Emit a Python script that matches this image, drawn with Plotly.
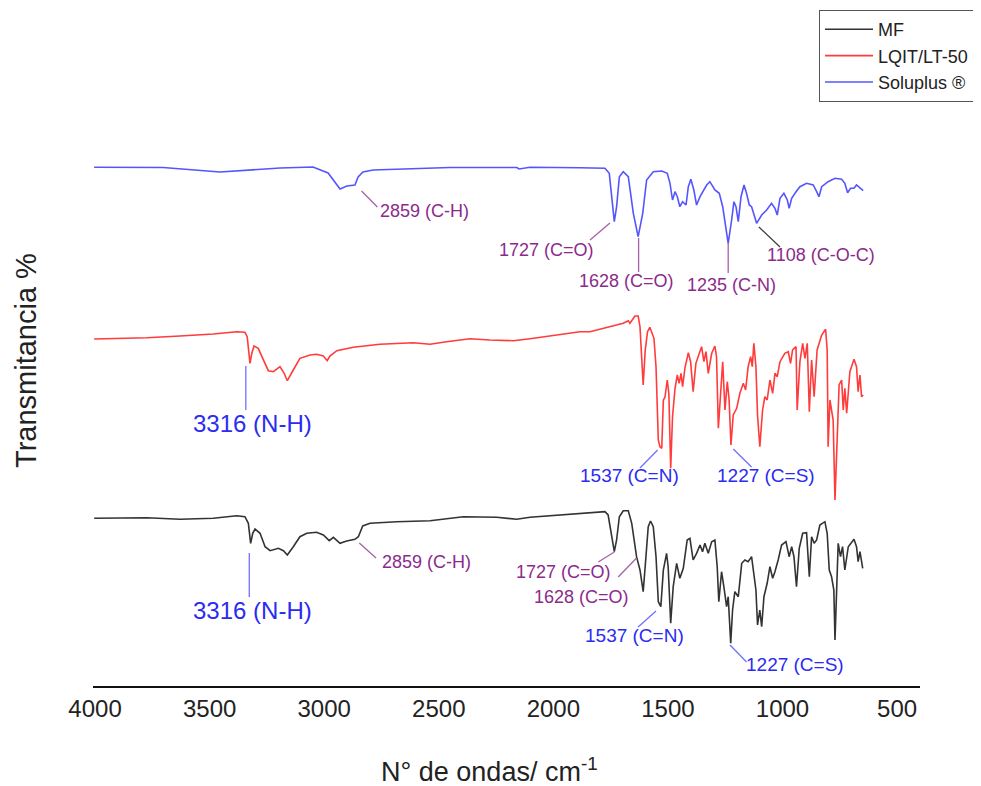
import plotly.graph_objects as go

# ---------------- data (wavenumber cm-1, transmittance in arbitrary offset units) ----------------
mf_wn = [4004, 3774, 3629, 3484, 3382, 3346, 3331, 3321, 3312, 3302, 3280, 3258, 3236, 3200, 3178, 3161,
         3135, 3106, 3076, 3033, 3004, 2978, 2960, 2931, 2902, 2866, 2851, 2832, 2800, 2684, 2538, 2393,
         2247, 2160, 2102, 1884, 1840, 1775, 1761, 1746, 1734, 1724, 1712, 1695, 1673, 1658, 1637, 1622,
         1608, 1596, 1586, 1576, 1564, 1552, 1542, 1531, 1520, 1506, 1499, 1488, 1477, 1462, 1448, 1433,
         1416, 1404, 1390, 1375, 1360, 1349, 1339, 1324, 1309, 1295, 1285, 1278, 1266, 1256, 1244, 1237,
         1226, 1218, 1208, 1193, 1178, 1164, 1150, 1135, 1125, 1116, 1109, 1099, 1091, 1081, 1067, 1055,
         1043, 1033, 1019, 1004, 985, 971, 960, 950, 939, 927, 912, 895, 883, 873, 862, 851, 837, 815,
         805, 796, 786, 776, 771, 764, 757, 747, 738, 728, 713, 688, 677, 670, 662, 650]
mf_t = [167.7, 168.3, 166.7, 167.7, 170.3, 169.3, 162.7, 142.7, 152.7, 157, 152.7, 139.3, 135.3, 137.7,
        135.3, 131, 139.3, 149.3, 152.7, 153.7, 151, 145.3, 148.7, 142.7, 145, 146.7, 149.3, 160, 162.7,
        164.3, 165.3, 169.3, 168.7, 166.7, 168.7, 172, 172.7, 174.3, 171, 149.3, 134.3, 146, 169.3, 175.3,
        175.3, 162.7, 129.3, 116, 94.3, 129.3, 159.3, 165, 159.3, 129.3, 84.3, 79.3, 116, 132.7, 119.3,
        62.7, 99.3, 122.7, 107.7, 117.7, 146, 147.7, 126, 132.7, 141, 134.3, 142.7, 132.7, 144.3, 146,
        119.3, 84.3, 114.3, 99.3, 79.3, 89.3, 42.7, 76, 94.3, 89.3, 122.7, 126, 124.3, 129.3, 109.3, 96,
        61, 76, 59.3, 89.3, 102.7, 119.3, 107.7, 114.3, 126, 141, 144.3, 129.3, 139.3, 129.3, 99.3, 137.7,
        152.7, 153.3, 109.3, 149.3, 142.7, 146, 161, 164.3, 152.7, 116, 109.3, 96, 46, 96, 142.7, 129.3,
        139.3, 116, 139.3, 146.7, 139.3, 124.3, 134.3, 117.7]

lqit_wn = [4004, 3774, 3629, 3484, 3382, 3346, 3336, 3324, 3316, 3306, 3288, 3266, 3244, 3222, 3193, 3175,
           3161, 3135, 3106, 3062, 3033, 3004, 2987, 2975, 2945, 2873, 2757, 2611, 2538, 2466, 2364, 2277,
           2175, 2102, 1884, 1840, 1797, 1739, 1695, 1673, 1666, 1644, 1630, 1622, 1615, 1608, 1599, 1589,
           1579, 1568, 1561, 1552, 1542, 1535, 1527, 1520, 1513, 1503, 1496, 1488, 1480, 1469, 1459, 1451,
           1443, 1436, 1426, 1411, 1401, 1390, 1378, 1363, 1353, 1343, 1334, 1324, 1309, 1295, 1288, 1280,
           1270, 1261, 1251, 1241, 1233, 1225, 1215, 1200, 1186, 1171, 1161, 1150, 1139, 1132, 1125, 1116,
           1109, 1099, 1087, 1077, 1067, 1055, 1043, 1033, 1023, 1011, 990, 975, 965, 956, 941, 936, 924,
           912, 902, 892, 883, 873, 862, 849, 829, 812, 805, 801, 793, 786, 779, 771, 761, 753, 742, 735,
           728, 720, 706, 688, 677, 670, 662, 655, 648]
lqit_t = [347, 348.3, 350, 352, 354.3, 353.7, 349.3, 322.7, 332.7, 340, 337.7, 326, 315.3, 314.3, 319.3,
          312.7, 305.3, 316, 327.7, 331, 331.7, 330, 325.3, 330, 335.3, 338.7, 341.7, 343.3, 341.7, 344.3,
          347.3, 346, 345.3, 347.3, 354.3, 354.3, 356.7, 360, 362.7, 365.3, 362.7, 370, 370, 359.3, 329.3,
          301, 336, 354.3, 358.7, 352.7, 347.7, 319.3, 246, 239.3, 237.7, 286, 288.7, 306, 292.7, 217.7,
          269.3, 297.7, 311, 302.7, 312.7, 299.3, 317.7, 333.3, 324.3, 294.3, 322.7, 332.7, 339.3, 324.3,
          334.3, 312.7, 332.7, 340, 329.3, 257.7, 296, 324.3, 276, 304.3, 286, 241, 271, 277.7, 292.7,
          302.7, 296, 319.3, 329.3, 319.3, 342.7, 319.3, 271, 239.3, 276, 289.3, 286, 306, 292.7, 312.7,
          309.3, 324.3, 332.7, 334.3, 322.7, 336, 339.3, 276, 324.3, 342.7, 327.7, 342.7, 274.3, 326,
          289.3, 336, 351, 356.7, 336, 239.3, 286, 276, 266, 186, 259.3, 301, 306, 276, 297.7, 272.7,
          314.3, 326.7, 319.3, 294.3, 311, 289.3, 291]

sol_wn = [4004, 3703, 3455, 3193, 3049, 2983, 2931, 2901, 2866, 2852, 2831, 2787, 2451, 2159, 2150, 2102,
          1884, 1775, 1756, 1746, 1734, 1724, 1712, 1695, 1673, 1651, 1630, 1610, 1593, 1564, 1527, 1503,
          1491, 1480, 1469, 1459, 1448, 1436, 1421, 1411, 1400, 1387, 1375, 1360, 1343, 1331, 1317, 1305,
          1295, 1276, 1261, 1248, 1237, 1222, 1212, 1203, 1193, 1181, 1168, 1157, 1145, 1135, 1125, 1113,
          1091, 1069, 1048, 1033, 1023, 1011, 994, 979, 971, 960, 941, 924, 895, 866, 851, 841, 829, 801,
          771, 742, 728, 716, 703, 688, 677, 665, 648]
sol_t = [518.7, 518.5, 514, 518, 519, 513, 497, 500, 501, 509, 514, 516, 518.5, 518.5, 517, 518.7, 518.3,
         517.7, 512.7, 489.3, 464.3, 479.3, 509.3, 514.3, 509.3, 472.7, 449.3, 472.7, 506, 514.3, 515,
         512.7, 502.7, 486, 494.3, 489.3, 479.3, 484.3, 481, 499.3, 506.7, 496, 481, 489.3, 496, 501,
         504.3, 499.3, 496, 492.7, 479.3, 459.3, 442.7, 466, 484.3, 479.3, 464.3, 489.3, 501, 492.7, 481,
         479.3, 471, 462.7, 471, 476, 482.7, 477.7, 471, 487.7, 492.7, 486, 477.7, 487.7, 494.3, 499.3,
         502.7, 501, 494.3, 489.3, 499.3, 504.3, 507.7, 506.7, 502.7, 493.3, 497.7, 497.7, 501, 498.7, 495.3]

# band labels: text, x, y, anchor, leader line (x0, y0, x1, y1), text colour, line colour, font size
PURPLE = "#8C2A8C"
PURPLE_LINE = "#A860A8"
BLUE = "#2B2BF2"
BLUE_LINE = "#7070FF"
GREY_LINE = "#404040"

band_labels = [
    # Soluplus
    ("2859 (C-H)", 2765, 475, "left", (2837, 495, 2768, 479), PURPLE, PURPLE_LINE, 18),
    ("1727 (C=O)", 1814, 436, "right", (1753, 463, 1840, 446), PURPLE, PURPLE_LINE, 18),
    ("1628 (C=O)", 1683, 405, "center", (1628, 448, 1628, 414), PURPLE, PURPLE_LINE, 18),
    ("1235 (C-N)", 1223, 401, "center", (1237, 443, 1237, 413), PURPLE, PURPLE_LINE, 18),
    ("1108 (C-O-C)", 1077, 431, "left", (1103, 459, 1011, 439), PURPLE, GREY_LINE, 18),
    # LQIT/LT-50
    ("3316 (N-H)", 3315, 263, "center", (3342, 320, 3342, 276), BLUE, BLUE_LINE, 24),
    ("1537 (C=N)", 1666, 211, "center", (1545, 236, 1622, 218), BLUE, BLUE_LINE, 19),
    ("1227 (C=S)", 1070, 211, "center", (1215, 237, 1135, 219), BLUE, BLUE_LINE, 19),
    # MF
    ("3316 (N-H)", 3313, 76, "center", (3327, 133, 3327, 89), BLUE, BLUE_LINE, 24),
    ("2859 (C-H)", 2757, 124, "left", (2847, 143, 2774, 128), PURPLE, PURPLE_LINE, 18),
    ("1727 (C=O)", 1740, 114, "right", (1734, 134, 1804, 124), PURPLE, PURPLE_LINE, 18),
    ("1628 (C=O)", 1661, 89, "right", (1637, 128, 1717, 109), PURPLE, PURPLE_LINE, 18),
    ("1537 (C=N)", 1648, 51, "center", (1552, 75, 1630, 59), BLUE, BLUE_LINE, 19),
    ("1227 (C=S)", 1170, 22, "left", (1229, 41, 1157, 24), BLUE, BLUE_LINE, 19),
]

x_ticks = [4000, 3500, 3000, 2500, 2000, 1500, 1000, 500]
x_title = "N° de ondas/ cm<sup>-1</sup>"
y_title = "Transmitancia %"

FONT = "Arial, Liberation Sans, sans-serif"

# ---------------- figure ----------------
fig = go.Figure()
fig.add_trace(go.Scatter(x=mf_wn, y=mf_t, mode="lines", name="MF",
                         line=dict(color="#333333", width=1.6)))
fig.add_trace(go.Scatter(x=lqit_wn, y=lqit_t, mode="lines", name="LQIT/LT-50",
                         line=dict(color="#FF3B3B", width=1.6)))
fig.add_trace(go.Scatter(x=sol_wn, y=sol_t, mode="lines", name="Soluplus ®",
                         line=dict(color="#5555FF", width=1.6)))

for text, x, y, anchor, (x0, y0, x1, y1), tcol, lcol, fs in band_labels:
    fig.add_shape(type="line", x0=x0, y0=y0, x1=x1, y1=y1, xref="x", yref="y",
                  line=dict(color=lcol, width=1.3))
    fig.add_annotation(x=x, y=y, xref="x", yref="y", text=text, showarrow=False,
                       xanchor=anchor, yanchor="middle",
                       font=dict(family=FONT, size=fs, color=tcol))

# axis titles
fig.add_annotation(x=0.48, y=-0.126, xref="paper", yref="paper", text=x_title, showarrow=False,
                   xanchor="center", yanchor="middle",
                   font=dict(family=FONT, size=27, color="#222222"))
fig.add_annotation(x=-0.081, y=0.488, xref="paper", yref="paper", text=y_title, showarrow=False,
                   textangle=-90, xanchor="center", yanchor="middle",
                   font=dict(family=FONT, size=29, color="#222222"))

fig.update_layout(
    width=973, height=778,
    paper_bgcolor="white", plot_bgcolor="white",
    margin=dict(l=85, r=61, t=12, b=100, autoexpand=False),
    font=dict(family=FONT, color="#222222"),
    showlegend=True,
    legend=dict(x=(811 - 85) / 827, y=(678 - 2) / 666, xanchor="left", yanchor="top",
                bgcolor="white", bordercolor="#555555", borderwidth=1,
                font=dict(size=18, color="#222222"), tracegroupgap=0,
                itemwidth=48),
    xaxis=dict(range=[4009, 400], tickvals=x_ticks, showgrid=False, zeroline=False,
               showline=True, linecolor="#111111", linewidth=2, ticks="",
               tickfont=dict(size=24, color="#222222")),
    yaxis=dict(range=[0, 666], showgrid=False, zeroline=False, showline=False,
               showticklabels=False, ticks=""),
)

fig.write_html("out.html")
